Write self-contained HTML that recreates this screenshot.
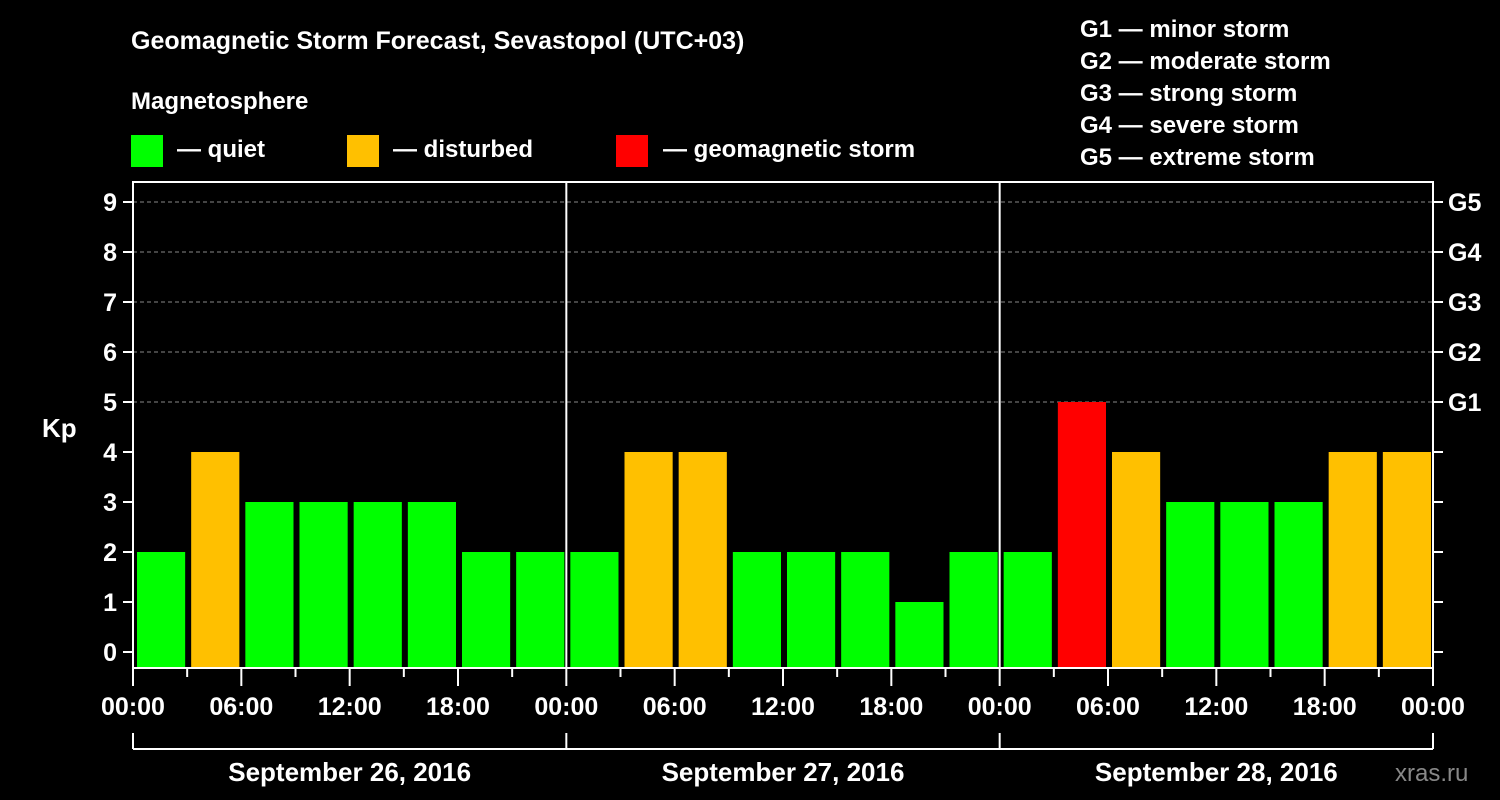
<!DOCTYPE html>
<html><head><meta charset="utf-8"><style>
html,body{margin:0;padding:0;background:#000;}
svg{display:block;font-family:"Liberation Sans",Arial,sans-serif;font-weight:bold;}
</style></head><body>
<svg id="chart" width="1500" height="800" viewBox="0 0 1500 800">
<rect width="1500" height="800" fill="#000"/>
<text x="131" y="49" fill="#fff" font-size="25">Geomagnetic Storm Forecast, Sevastopol (UTC+03)</text>
<text x="131" y="109" fill="#fff" font-size="24">Magnetosphere</text>
<g><rect x="131" y="135" width="32" height="32" fill="#00ff00"/><text x="177" y="157" fill="#fff" font-size="24">— quiet</text></g>
<g><rect x="347" y="135" width="32" height="32" fill="#ffc000"/><text x="393" y="157" fill="#fff" font-size="24">— disturbed</text></g>
<g><rect x="616" y="135" width="32" height="32" fill="#ff0000"/><text x="663" y="157" fill="#fff" font-size="24">— geomagnetic storm</text></g>
<g font-size="24" fill="#fff">
<text x="1080" y="37">G1 — minor storm</text>
<text x="1080" y="69">G2 — moderate storm</text>
<text x="1080" y="101">G3 — strong storm</text>
<text x="1080" y="133">G4 — severe storm</text>
<text x="1080" y="165">G5 — extreme storm</text>
</g>
<text x="42" y="437" fill="#fff" font-size="26">Kp</text>
<text x="1395" y="781" fill="#888" font-size="24" font-weight="normal">xras.ru</text>
<g id="plot"></g>
</svg>
<script>
const values = [2,4,3,3,3,3,2,2, 2,4,4,2,2,2,1,2, 2,5,4,3,3,3,4,4];
const dayLabels = ["September 26, 2016","September 27, 2016","September 28, 2016"];
const yTicks = [0,1,2,3,4,5,6,7,8,9];
const gLabels = ["G1","G2","G3","G4","G5"];
const hourLabels = ["00:00","06:00","12:00","18:00"];

const NS="http://www.w3.org/2000/svg";
const g=document.getElementById('plot');
const L=133,R=1433,T=182,B=668;
const slot=(R-L)/values.length;
const y=v=>652-50*v;
const x=i=>L+i*slot;
function mk(t,a,p){const e=document.createElementNS(NS,t);for(const k in a)e.setAttribute(k,a[k]);(p||g).appendChild(e);return e;}
function color(v){return v>=5?"#ff0000":v>=4?"#ffc000":"#00ff00";}

// gridlines
yTicks.forEach(v=>{
  if(v>=5){const l=mk('line',{x1:L,x2:R,y1:y(v),y2:y(v),stroke:'#888','stroke-dasharray':'4,3','stroke-width':1});
  
  }
});
// bars
values.forEach((v,i)=>{
  const r=mk('rect',{x:x(i)+4,y:y(v),width:slot-6,height:B-y(v),fill:color(v)});
  
  
});
// frame
const fr=mk('rect',{x:L,y:T,width:R-L,height:B-T,fill:'none',stroke:'#fff','stroke-width':2});


const days=dayLabels.length, perDay=values.length/days;
for(let d=1;d<days;d++){
  const l=mk('line',{x1:x(d*perDay),x2:x(d*perDay),y1:T,y2:B,stroke:'#fff','stroke-width':2});
  
  
}
// y ticks
yTicks.forEach(v=>{
  mk('line',{x1:L-10,x2:L,y1:y(v),y2:y(v),stroke:'#fff','stroke-width':2});
  mk('line',{x1:R,x2:R+10,y1:y(v),y2:y(v),stroke:'#fff','stroke-width':2});
  const t=mk('text',{x:L-16,y:y(v)+9,'text-anchor':'end',fill:'#fff','font-size':25});
  t.textContent=v;
  
  
  if(v>=5){const gt=mk('text',{x:R+15,y:y(v)+9,fill:'#fff','font-size':25});
  gt.textContent=gLabels[v-5];
  
  }
});
// x ticks
for(let i=0;i<=values.length;i++){
  const major=i%2===0;
  mk('line',{x1:x(i),x2:x(i),y1:B,y2:B+(major?18:9),stroke:'#fff','stroke-width':2});
  if(major){
    const t=mk('text',{x:x(i),y:B+47,'text-anchor':'middle',fill:'#fff','font-size':25});
    t.textContent=hourLabels[(i/2)%4];
    
    
  }
}
// day brackets
mk('line',{x1:x(0),x2:x(values.length),y1:749,y2:749,stroke:'#fff','stroke-width':2});
for(let d=0;d<=days;d++) mk('line',{x1:x(d*perDay),x2:x(d*perDay),y1:733,y2:749,stroke:'#fff','stroke-width':2});
dayLabels.forEach((s,d)=>{
  const t=mk('text',{x:(x(d*perDay)+x((d+1)*perDay))/2,y:781,'text-anchor':'middle',fill:'#fff','font-size':26});
  t.textContent=s;
  
  
});
</script>
</body></html>
